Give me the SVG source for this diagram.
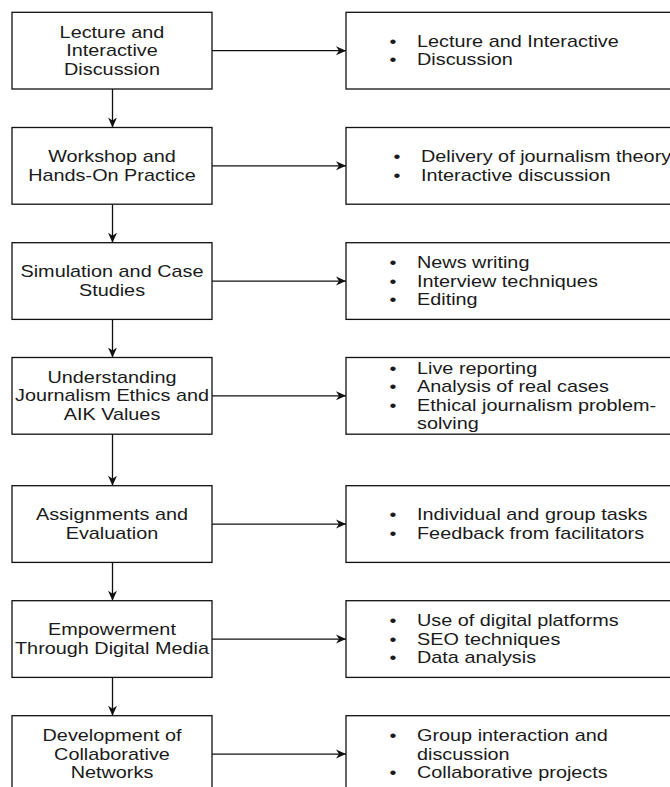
<svg xmlns="http://www.w3.org/2000/svg" width="670" height="787" viewBox="0 0 670 787">
<style>
.box{fill:#fff;stroke:#111;stroke-width:1.3}
.conn{stroke:#111;stroke-width:1.3;fill:none;marker-end:url(#arr)}
text{font-family:"Liberation Sans",Arial,Helvetica,sans-serif;font-size:16px;fill:#1a1a1a}
.c{text-anchor:middle}
</style>
<defs>
<marker id="arr" viewBox="0 0 10 10" refX="10" refY="5" markerWidth="10" markerHeight="10" markerUnits="userSpaceOnUse" orient="auto">
<path d="M0,0.5 L10,5 L0,9.5 L3,5 Z" fill="#111"/>
</marker>
</defs>
<rect width="670" height="787" fill="#fff"/>
<g id="connectors">
<path class="conn" d="M112.5,89 V127.5"/>
<path class="conn" d="M112.5,204.2 V242.7"/>
<path class="conn" d="M112.5,319.4 V357.5"/>
<path class="conn" d="M112.5,434.2 V485.7"/>
<path class="conn" d="M112.5,562.4 V600.7"/>
<path class="conn" d="M112.5,677.4 V715.7"/>
<path class="conn" d="M212,50.65 H346"/>
<path class="conn" d="M212,165.85 H346"/>
<path class="conn" d="M212,281.05 H346"/>
<path class="conn" d="M212,395.85 H346"/>
<path class="conn" d="M212,524.05 H346"/>
<path class="conn" d="M212,639.05 H346"/>
<path class="conn" d="M212,754.05 H346"/>
</g>
<g id="n1"><rect class="box" x="12" y="12.3" width="200" height="76.7"/>
<g transform="scale(1.24 1)"><text class="c" x="90.32" y="37.65">Lecture and</text><text class="c" x="90.32" y="56.15">Interactive</text><text class="c" x="90.32" y="74.65">Discussion</text></g></g>
<g id="r1"><rect class="box" x="346" y="12.3" width="330" height="76.7"/>
<g transform="scale(1.24 1)"><text x="314.1" y="46.9">•</text><text x="336.29" y="46.9">Lecture and Interactive</text><text x="314.1" y="65.4">•</text><text x="336.29" y="65.4">Discussion</text></g></g>

<g id="n2"><rect class="box" x="12" y="127.5" width="200" height="76.7"/>
<g transform="scale(1.24 1)"><text class="c" x="90.32" y="162.1">Workshop and</text><text class="c" x="90.32" y="180.6">Hands-On Practice</text></g></g>
<g id="r2"><rect class="box" x="346" y="127.5" width="330" height="76.7"/>
<g transform="scale(1.24 1)"><text x="317.3" y="162.1">•</text><text x="339.5" y="162.1">Delivery of journalism theory</text><text x="317.3" y="180.6">•</text><text x="339.5" y="180.6">Interactive discussion</text></g></g>

<g id="n3"><rect class="box" x="12" y="242.7" width="200" height="76.7"/>
<g transform="scale(1.24 1)"><text class="c" x="90.32" y="277.3">Simulation and Case</text><text class="c" x="90.32" y="295.8">Studies</text></g></g>
<g id="r3"><rect class="box" x="346" y="242.7" width="330" height="76.7"/>
<g transform="scale(1.24 1)"><text x="314.1" y="268.05">•</text><text x="336.29" y="268.05">News writing</text><text x="314.1" y="286.55">•</text><text x="336.29" y="286.55">Interview techniques</text><text x="314.1" y="305.05">•</text><text x="336.29" y="305.05">Editing</text></g></g>

<g id="n4"><rect class="box" x="12" y="357.5" width="200" height="76.7"/>
<g transform="scale(1.24 1)"><text class="c" x="90.32" y="382.85">Understanding</text><text class="c" x="90.32" y="401.35">Journalism Ethics and</text><text class="c" x="90.32" y="419.85">AIK Values</text></g></g>
<g id="r4"><rect class="box" x="346" y="357.5" width="330" height="76.7"/>
<g transform="scale(1.24 1)"><text x="314.1" y="373.6">•</text><text x="336.29" y="373.6">Live reporting</text><text x="314.1" y="392.1">•</text><text x="336.29" y="392.1">Analysis of real cases</text><text x="314.1" y="410.6">•</text><text x="336.29" y="410.6">Ethical journalism problem-</text><text x="336.29" y="429.1">solving</text></g></g>

<g id="n5"><rect class="box" x="12" y="485.7" width="200" height="76.7"/>
<g transform="scale(1.24 1)"><text class="c" x="90.32" y="520.3">Assignments and</text><text class="c" x="90.32" y="538.8">Evaluation</text></g></g>
<g id="r5"><rect class="box" x="346" y="485.7" width="330" height="76.7"/>
<g transform="scale(1.24 1)"><text x="314.1" y="520.3">•</text><text x="336.29" y="520.3">Individual and group tasks</text><text x="314.1" y="538.8">•</text><text x="336.29" y="538.8">Feedback from facilitators</text></g></g>

<g id="n6"><rect class="box" x="12" y="600.7" width="200" height="76.7"/>
<g transform="scale(1.24 1)"><text class="c" x="90.32" y="635.3">Empowerment</text><text class="c" x="90.32" y="653.8">Through Digital Media</text></g></g>
<g id="r6"><rect class="box" x="346" y="600.7" width="330" height="76.7"/>
<g transform="scale(1.24 1)"><text x="314.1" y="626.05">•</text><text x="336.29" y="626.05">Use of digital platforms</text><text x="314.1" y="644.55">•</text><text x="336.29" y="644.55">SEO techniques</text><text x="314.1" y="663.05">•</text><text x="336.29" y="663.05">Data analysis</text></g></g>

<g id="n7"><rect class="box" x="12" y="715.7" width="200" height="90"/>
<g transform="scale(1.24 1)"><text class="c" x="90.32" y="741.05">Development of</text><text class="c" x="90.32" y="759.55">Collaborative</text><text class="c" x="90.32" y="778.05">Networks</text></g></g>
<g id="r7"><rect class="box" x="346" y="715.7" width="330" height="90"/>
<g transform="scale(1.24 1)"><text x="314.1" y="741.05">•</text><text x="336.29" y="741.05">Group interaction and</text><text x="336.29" y="759.55">discussion</text><text x="314.1" y="778.05">•</text><text x="336.29" y="778.05">Collaborative projects</text></g></g>
</svg>
